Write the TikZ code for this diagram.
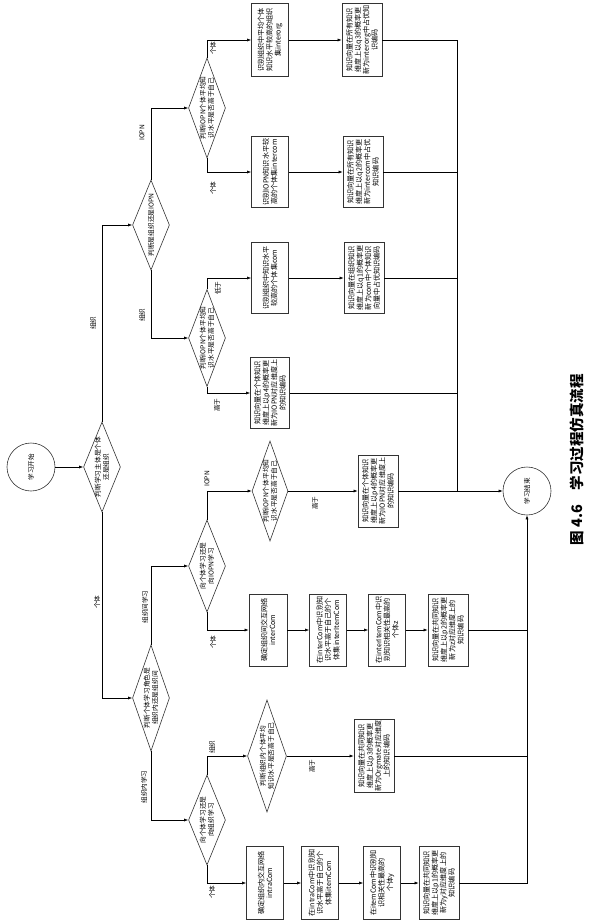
\documentclass[tikz,border=0pt]{standalone}
\usepackage{fontspec}
\setmainfont{Noto Sans CJK SC}
\usetikzlibrary{shapes.geometric,arrows.meta}

\begin{document}
\begin{tikzpicture}[x=1pt, y=-1pt, line width=0.55pt,
    >={Latex[length=4pt,width=3pt]},
    every node/.style={font=\fontsize{6.6}{8.2}\selectfont, align=center},
    box/.style={draw=black!80, line width=0.7pt, rotate=90, minimum width=72pt, minimum height=37pt, inner sep=1pt, font=\fontsize{7.1}{8.4}\selectfont},
    wbox/.style={box, minimum height=40pt},
    dia/.style={draw=black!80, line width=0.6pt, shape=diamond, aspect=2.7, rotate=90, minimum width=100pt, minimum height=37pt, inner sep=-2pt, font=\fontsize{6.7}{8.2}\selectfont},
    term/.style={draw=black!80, line width=0.6pt, circle, rotate=90, minimum size=48pt, inner sep=0pt},
    lbl/.style={rotate=90, inner sep=0pt}]
    \useasboundingbox (0,0) rectangle (593,921);

    \node[term] (start) at (31,467) {学习开始};
    \node[term] (endc) at (527,491) {学习结束};

    \node[dia, minimum width=90pt] (dSubj) at (102,467) {判断学习主体是个体\\还是组织};
    \node[dia, minimum width=90pt] (dOrgIopn) at (151,225) {判断是组织还是IOPN};
    \node[dia] (dIopnA) at (207,108) {判断IOPN个体平均知\\识水平是否高于自己};
    \node[dia, minimum width=97pt] (dIopnB) at (207,338) {判断IOPN个体平均知\\识水平是否高于自己};
    \node[dia, minimum width=106pt] (dRole) at (151,698) {判断个体学习角色是\\组织内还是组织间};
    \node[dia, minimum width=92pt] (dInter) at (207,566) {向个体学习还是\\向IOPN学习};
    \node[dia, minimum height=36pt] (dIopnC) at (270,491) {判断IOPN个体平均知\\识水平是否高于自己};
    \node[dia, minimum width=90pt] (dIntra) at (207,820) {向个体学习还是\\向组织学习};
    \node[dia, minimum width=112pt, minimum height=39pt] (dOrgLvl) at (267,756) {判断组织内个体平均\\知识水平是否高于自己};

    \node[box, minimum width=73pt] (bInterorg) at (270,40) {识别组织中平均个体\\知识水平较高的组织\\集interorg};
    \node[wbox, minimum width=73pt] (bQ3) at (362,40) {知识向量在所有知识\\维度上以q3的概率更\\新为interorg中占优知\\识编码};
    \node[box, minimum width=71pt] (bIntercom) at (270,172) {识别IOPN知识水平较\\高的个体集intercom};
    \node[wbox, minimum width=71pt] (bQ2) at (363,172) {知识向量在所有知识\\维度上以q2的概率更\\新为intercom中占优\\知识编码};
    \node[box, minimum width=71pt] (bCom) at (270,278) {识别组织中知识水平\\较高的个体集com};
    \node[wbox, minimum width=71pt] (bQ1) at (364,278) {知识向量在组织知识\\维度上以q1的概率更\\新为com中个体知识\\向量中占优知识编码};
    \node[wbox, minimum height=39pt, minimum width=71pt] (bP4a) at (270,393) {知识向量在个体知识\\维度上以p4的概率更\\新为IOPN对应维度上\\的知识编码};
    \node[wbox] (bP4b) at (378,491) {知识向量在个体知识\\维度上以p4的概率更\\新为IOPN对应维度上\\的知识编码};

    \node[box, minimum height=38pt] (bInterCom) at (268,630) {确定组织间交互网络\\interCom};
    \node[box] (bInterItem) at (328,630) {在interCom中识别知\\识水平高于自己的个\\体集interItemCom};
    \node[box] (bZ) at (387,630) {在interItemCom中识\\别知识相关性最高的\\个体z};
    \node[wbox] (bP2) at (448,630) {知识向量在共同知识\\维度上以p2的概率更\\新为z对应维度上的\\知识编码};

    \node[wbox, minimum width=73pt] (bP3) at (374,756) {知识向量在共同知识\\维度上以p3的概率更\\新为Orgmate对应维度\\上的知识编码};

    \node[box, minimum width=73pt] (bIntraCom) at (265,883) {确定组织内交互网络\\intraCom};
    \node[box, minimum width=73pt] (bItemCom) at (320,883) {在intraCom中识别知\\识水平高于自己的个\\体集itemCom};
    \node[box, minimum width=73pt] (bY) at (382,883) {在itemCom中识别知\\识相关性最高的\\个体y};
    \node[wbox, minimum width=73pt] (bP1) at (439,883) {知识向量在共同知识\\维度上以p1的概率更\\新为y对应维度上的\\知识编码};

    \coordinate (jR) at (457,491);

    \draw[->] (start) -- (dSubj);
    \draw[->] (dSubj) |- (dOrgIopn);
    \draw[->] (dSubj) |- (dRole);
    \draw[->] (dOrgIopn) |- (dIopnA);
    \draw[->] (dOrgIopn) |- (dIopnB);
    \draw[->] (dIopnA) |- (bInterorg);
    \draw[->] (dIopnA) |- (bIntercom);
    \draw[->] (dIopnB) |- (bCom);
    \draw[->] (dIopnB) |- (bP4a);
    \draw[->] (bInterorg) -- (bQ3);
    \draw[->] (bIntercom) -- (bQ2);
    \draw[->] (bCom) -- (bQ1);
    \draw (bQ3) -| (jR);
    \draw (bQ2) -- (bQ2 -| jR);
    \draw (bQ1) -- (bQ1 -| jR);
    \draw (bP4a) -- (bP4a -| jR);

    \draw[->] (dRole) |- (dInter);
    \draw[->] (dRole) |- (dIntra);
    \draw[->] (dInter) |- (dIopnC);
    \draw[->] (dInter) |- (bInterCom);
    \draw[->] (dIopnC) -- (bP4b);
    \draw[->] (bP4b) -- (endc);
    \draw[->] (bInterCom) -- (bInterItem);
    \draw[->] (bInterItem) -- (bZ);
    \draw[->] (bZ) -- (bP2);
    \draw[->] (dIntra) |- (dOrgLvl);
    \draw[->] (dIntra) |- (bIntraCom);
    \draw[->] (dOrgLvl) -- (bP3);
    \draw[->] (bIntraCom) -- (bItemCom);
    \draw[->] (bItemCom) -- (bY);
    \draw[->] (bY) -- (bP1);
    \draw[->] (bP1) -| (endc);
    \draw (bP2) -- (bP2 -| endc);
    \draw (bP3) -- (bP3 -| endc);

    \node[lbl] (lOrgA) at (93,323) {组织};
    \node[lbl] (lIndA) at (97,602) {个体};
    \node[lbl] (lIopnA) at (142,133) {IOPN};
    \node[lbl] (lOrgB) at (142,315) {组织};
    \node[lbl] (lIndB) at (213,48) {个体};
    \node[lbl] (lIndC) at (213,188) {个体};
    \node[lbl] (lLow) at (218,288) {低于};
    \node[lbl] (lHighA) at (217,405) {高于};
    \node[lbl] (lInter) at (145,607) {组织间学习};
    \node[lbl] (lIntra) at (144,787) {组织内学习};
    \node[lbl] (lIopnB) at (207,479) {IOPN};
    \node[lbl] (lIndD) at (213,642) {个体};
    \node[lbl] (lHighB) at (315,503) {高于};
    \node[lbl] (lOrgC) at (212,747) {组织};
    \node[lbl] (lIndE) at (212,892) {个体};
    \node[lbl] (lHighC) at (312,766) {高于};

    \node[lbl, font=\fontsize{14.5}{16}\selectfont\bfseries] (cap) at (577,460) {图~4.6\quad 学习过程仿真流程};
\end{tikzpicture}
\end{document}
